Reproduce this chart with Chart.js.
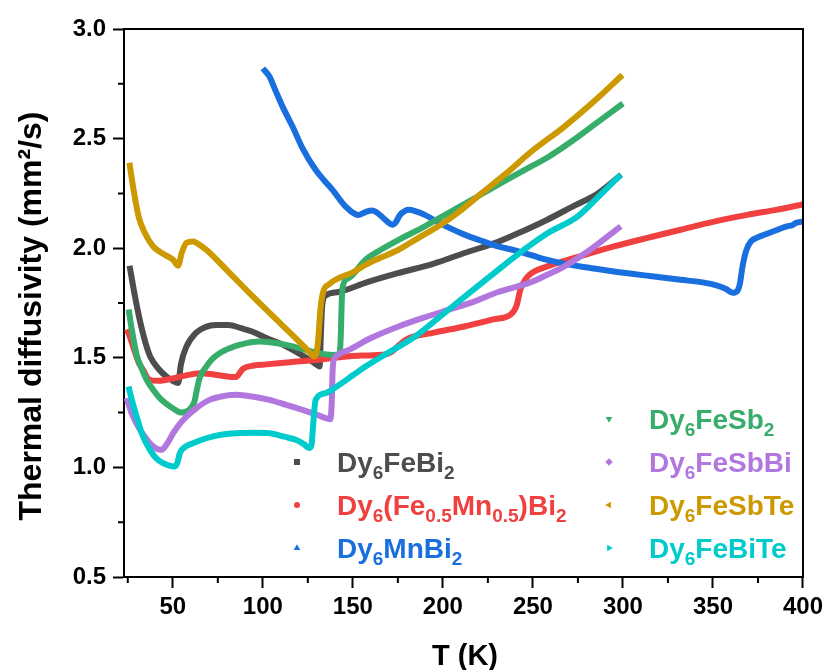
<!DOCTYPE html>
<html><head><meta charset="utf-8">
<script src="https://cdn.jsdelivr.net/npm/chart.js@4/dist/chart.umd.min.js"></script>
<style>html,body{margin:0;padding:0;background:#fff;}</style>
</head><body>
<canvas id="c" width="828" height="670"></canvas>
<script>
// ---------- data ----------
const seriesNames = ['Dy_{6}FeBi_{2}', 'Dy_{6}(Fe_{0.5}Mn_{0.5})Bi_{2}', 'Dy_{6}MnBi_{2}',
  'Dy_{6}FeSb_{2}', 'Dy_{6}FeSbBi', 'Dy_{6}FeSbTe', 'Dy_{6}FeBiTe'];
const seriesColors = ['#4d4d4d', '#f04040', '#1a6fdf', '#37ad6b', '#b177de', '#cc9900', '#00cbcc'];
const seriesMarkers = ['rect', 'circle', 'triUp', 'triDown', 'diamond', 'triLeft', 'triRight'];

const T_FeBi2 = [26, 29, 32, 35.5, 37.5, 42, 46.5, 50, 53, 54.5, 57.5, 63, 68, 74, 81, 88, 94, 102, 111, 120, 126, 130, 131.5, 132.3, 133, 135, 142, 158, 175, 195, 212, 231, 245, 258, 272, 286, 299];
const D_FeBi2 = [1.92, 1.78, 1.66, 1.55, 1.505, 1.45, 1.414, 1.395, 1.385, 1.47, 1.55, 1.615, 1.64, 1.65, 1.65, 1.635, 1.62, 1.59, 1.56, 1.52, 1.49, 1.468, 1.46, 1.62, 1.74, 1.785, 1.80, 1.845, 1.886, 1.93, 1.978, 2.03, 2.08, 2.13, 2.19, 2.25, 2.335];

const T_FeMnBi2 = [24.5, 26, 28, 31, 33.5, 37, 42, 46.5, 55, 65, 72, 80, 85, 89, 95, 102, 115, 129, 140, 155, 168, 172, 176, 180, 195, 212, 228, 238, 241, 243, 246, 250, 258, 275, 295, 315, 332, 350, 369, 385, 400];
const D_FeMnBi2 = [1.63, 1.60, 1.55, 1.48, 1.445, 1.40, 1.395, 1.40, 1.415, 1.43, 1.425, 1.415, 1.412, 1.45, 1.465, 1.47, 1.48, 1.49, 1.50, 1.51, 1.515, 1.53, 1.56, 1.585, 1.615, 1.643, 1.675, 1.70, 1.74, 1.81, 1.86, 1.89, 1.917, 1.96, 2.008, 2.05, 2.084, 2.12, 2.152, 2.175, 2.20];

const T_MnBi2 = [100, 103.6, 107, 110.9, 116.5, 122, 129.3, 134, 138.6, 146, 151.5, 153, 157, 160.5, 163, 166, 169, 172, 174, 176, 179, 181, 185, 190, 197, 203, 212, 221, 230, 240, 250, 258, 270, 282, 295, 315, 332, 345, 352, 357, 361, 363.5, 365, 366.5, 368.5, 371, 374.5, 383, 391, 394, 396, 400];
const D_MnBi2 = [2.82, 2.784, 2.72, 2.647, 2.555, 2.457, 2.358, 2.31, 2.267, 2.19, 2.155, 2.152, 2.165, 2.172, 2.165, 2.145, 2.122, 2.107, 2.12, 2.15, 2.17, 2.175, 2.168, 2.152, 2.12, 2.095, 2.062, 2.035, 2.01, 1.99, 1.966, 1.947, 1.925, 1.91, 1.894, 1.873, 1.856, 1.843, 1.83, 1.815, 1.797, 1.805, 1.84, 1.92, 1.99, 2.03, 2.048, 2.075, 2.10, 2.105, 2.115, 2.122];

const T_FeSb2 = [25.5, 27, 30, 33, 35.5, 39, 42.8, 46.5, 50, 54.8, 59, 62, 63.5, 65, 68.6, 72, 76, 82, 87, 98, 105, 113, 122, 131, 138.6, 142.5, 143.3, 143.8, 144.5, 147.8, 157, 166, 175.4, 190, 203, 217, 230.7, 245, 258.3, 272, 286, 300];
const D_FeSb2 = [1.72, 1.64, 1.51, 1.445, 1.40, 1.355, 1.316, 1.29, 1.27, 1.25, 1.262, 1.30, 1.36, 1.41, 1.46, 1.495, 1.521, 1.545, 1.559, 1.574, 1.57, 1.559, 1.54, 1.521, 1.513, 1.515, 1.60, 1.75, 1.83, 1.864, 1.947, 1.995, 2.038, 2.10, 2.16, 2.225, 2.29, 2.355, 2.415, 2.49, 2.575, 2.66];

const T_FeSbBi = [24.4, 27, 29.9, 33.5, 37.3, 41, 43.8, 47, 50.2, 54, 57.6, 63, 70.4, 78, 85.2, 95, 103.6, 113, 122, 130, 135, 137.5, 138.3, 138.8, 140, 143, 147.8, 160, 175.4, 190, 203, 217, 230.7, 249, 258.3, 267.5, 283, 298.8];
const D_FeSbBi = [1.316, 1.25, 1.20, 1.15, 1.11, 1.085, 1.08, 1.11, 1.156, 1.20, 1.232, 1.27, 1.308, 1.325, 1.331, 1.322, 1.308, 1.285, 1.262, 1.24, 1.225, 1.22, 1.30, 1.45, 1.50, 1.52, 1.536, 1.59, 1.643, 1.685, 1.719, 1.755, 1.80, 1.845, 1.88, 1.917, 2.00, 2.10];

const T_FeSbTe = [25.9, 28.2, 31, 34.5, 39.1, 45.6, 50.2, 52.9, 55, 57.6, 61.2, 64, 68.6, 80, 94.4, 110, 120, 126, 128.5, 130.5, 132, 133.5, 136.7, 142.3, 150, 157, 165, 175.4, 186, 197.5, 208, 221.4, 235, 249, 267.5, 284, 299.7];
const D_FeSbTe = [2.39, 2.267, 2.145, 2.069, 2.008, 1.97, 1.947, 1.92, 1.98, 2.025, 2.031, 2.02, 1.993, 1.90, 1.78, 1.655, 1.575, 1.525, 1.506, 1.56, 1.72, 1.80, 1.835, 1.864, 1.89, 1.924, 1.955, 1.993, 2.045, 2.10, 2.16, 2.25, 2.34, 2.44, 2.555, 2.67, 2.79];

const T_FeBiTe = [25.4, 27.5, 29.9, 33, 37.3, 41, 44.7, 48, 51.1, 52.5, 53.9, 57, 61.2, 68.6, 76, 85.2, 95, 103.6, 112, 118.3, 123, 125.7, 127, 128, 129.3, 134.9, 142.3, 150, 157, 170, 184.6, 198, 212.3, 226, 240, 258.3, 274.9, 287, 298.8];
const D_FeBiTe = [1.369, 1.30, 1.232, 1.15, 1.08, 1.04, 1.019, 1.008, 1.004, 1.02, 1.065, 1.095, 1.11, 1.133, 1.148, 1.156, 1.158, 1.156, 1.14, 1.126, 1.105, 1.088, 1.10, 1.20, 1.308, 1.339, 1.376, 1.42, 1.46, 1.525, 1.597, 1.685, 1.78, 1.87, 1.962, 2.069, 2.145, 2.24, 2.335];

const seriesT = [T_FeBi2, T_FeMnBi2, T_MnBi2, T_FeSb2, T_FeSbBi, T_FeSbTe, T_FeBiTe];
const seriesD = [D_FeBi2, D_FeMnBi2, D_MnBi2, D_FeSb2, D_FeSbBi, D_FeSbTe, D_FeBiTe];

const xMajorTicks = [50, 100, 150, 200, 250, 300, 350, 400];
const xMinorTicks = [25, 75, 125, 175, 225, 275, 325, 375];
const yMajorTicks = [0.5, 1.0, 1.5, 2.0, 2.5, 3.0];
const yMinorTicks = [0.75, 1.25, 1.75, 2.25, 2.75];
const xTitle = 'T (K)';
const yTitle = 'Thermal diffusivity (mm\u00B2/s)';

// ---------- chart ----------
const FONT = "'Liberation Sans', Arial, sans-serif";
const drawOrder = [7, 6, 5, 4, 3, 2, 1];

const datasets = seriesNames.map((n, i) => ({
  label: n,
  data: seriesT[i].map((t, j) => ({x: t, y: seriesD[i][j]})),
  borderColor: seriesColors[i],
  backgroundColor: seriesColors[i],
  borderWidth: 6,
  pointRadius: 0,
  fill: false,
  cubicInterpolationMode: 'monotone',
  borderJoinStyle: 'round',
  order: drawOrder[i]
}));

function richSegments(markup) {
  const segs = [];
  const re = /_\{([^}]*)\}/g;
  let last = 0, m;
  while ((m = re.exec(markup)) !== null) {
    if (m.index > last) segs.push({t: markup.slice(last, m.index), sub: false});
    segs.push({t: m[1], sub: true});
    last = re.lastIndex;
  }
  if (last < markup.length) segs.push({t: markup.slice(last), sub: false});
  return segs;
}

function drawMarker(ctx, type, x, y, color) {
  ctx.save();
  ctx.fillStyle = color;
  ctx.beginPath();
  const r = 3.8;
  if (type === 'rect') { ctx.rect(x - 3, y - 3, 6, 6); }
  else if (type === 'circle') { ctx.arc(x, y, 3, 0, Math.PI * 2); }
  else if (type === 'diamond') { ctx.moveTo(x, y - r); ctx.lineTo(x + r, y); ctx.lineTo(x, y + r); ctx.lineTo(x - r, y); ctx.closePath(); }
  else {
    const rot = {triUp: 0, triRight: Math.PI / 2, triDown: Math.PI, triLeft: -Math.PI / 2}[type];
    for (let k = 0; k < 3; k++) {
      const a = rot + k * 2 * Math.PI / 3 - Math.PI / 2;
      const px = x + r * Math.cos(a), py = y + r * Math.sin(a);
      if (k === 0) ctx.moveTo(px, py); else ctx.lineTo(px, py);
    }
    ctx.closePath();
  }
  ctx.fill();
  ctx.restore();
}

const decor = {
  id: 'decor',
  afterDraw(chart) {
    const ctx = chart.ctx;
    const a = chart.chartArea;
    const xs = chart.scales.x, ys = chart.scales.y;
    ctx.save();
    ctx.strokeStyle = '#000';
    ctx.lineWidth = 2;
    ctx.beginPath();
    ctx.moveTo(a.left - 1, a.top); ctx.lineTo(a.right, a.top); ctx.lineTo(a.right, a.bottom + 1);
    ctx.stroke();
    ctx.beginPath();
    xMinorTicks.forEach(v => { const px = xs.getPixelForValue(v); ctx.moveTo(px, a.bottom); ctx.lineTo(px, a.bottom + 6); });
    yMinorTicks.forEach(v => { const py = ys.getPixelForValue(v); ctx.moveTo(a.left, py); ctx.lineTo(a.left - 6, py); });
    ctx.stroke();

    ctx.fillStyle = '#000';
    ctx.font = 'bold 29px ' + FONT;
    ctx.textAlign = 'center';
    ctx.textBaseline = 'alphabetic';
    ctx.fillText(xTitle, 465, 665);

    ctx.save();
    ctx.translate(41, 316);
    ctx.rotate(-Math.PI / 2);
    ctx.font = 'bold 32px ' + FONT;
    ctx.textAlign = 'center';
    ctx.fillText(yTitle, 0, 0);
    ctx.restore();

    const slots = [
      {mx: 297, tx: 337, by: 472}, {mx: 297, tx: 337, by: 515}, {mx: 297, tx: 337, by: 558},
      {mx: 609, tx: 649, by: 429}, {mx: 609, tx: 649, by: 472}, {mx: 609, tx: 649, by: 515}, {mx: 609, tx: 649, by: 558}
    ];
    seriesNames.forEach((name, i) => {
      const s = slots[i];
      drawMarker(ctx, seriesMarkers[i], s.mx, s.by - 10, seriesColors[i]);
      let x = s.tx;
      ctx.fillStyle = seriesColors[i];
      ctx.textAlign = 'left';
      ctx.textBaseline = 'alphabetic';
      richSegments(name).forEach(seg => {
        if (seg.sub) {
          ctx.font = 'bold 19px ' + FONT;
          ctx.fillText(seg.t, x, s.by + 7);
        } else {
          ctx.font = 'bold 28px ' + FONT;
          ctx.fillText(seg.t, x, s.by);
        }
        x += ctx.measureText(seg.t).width;
      });
    });
    ctx.restore();
  }
};

new Chart(document.getElementById('c'), {
  type: 'line',
  data: {datasets},
  options: {
    responsive: false,
    devicePixelRatio: 1,
    animation: false,
    layout: {padding: {top: 29, right: 21, left: 0, bottom: 0}},
    plugins: {legend: {display: false}, tooltip: {enabled: false}},
    scales: {
      x: {
        type: 'linear', min: 22.9, max: 400,
        afterFit: s => { s.height = 93; },
        afterBuildTicks: s => { s.ticks = xMajorTicks.map(v => ({value: v})); },
        ticks: {font: {family: FONT, size: 24, weight: 'bold'}, color: '#000', padding: 5, maxRotation: 0, autoSkip: false,
          callback: v => String(v)},
        grid: {display: true, drawOnChartArea: false, drawTicks: true, tickLength: 11, tickWidth: 2, tickColor: '#000'},
        border: {display: true, color: '#000', width: 2}
      },
      y: {
        type: 'linear', min: 0.5, max: 3.0,
        afterFit: s => { s.width = 124; },
        afterBuildTicks: s => { s.ticks = yMajorTicks.map(v => ({value: v})); },
        ticks: {font: {family: FONT, size: 24, weight: 'bold'}, color: '#000', padding: 7, autoSkip: false,
          callback: v => Number(v).toFixed(1)},
        grid: {display: true, drawOnChartArea: false, drawTicks: true, tickLength: 11, tickWidth: 2, tickColor: '#000'},
        border: {display: true, color: '#000', width: 2}
      }
    }
  },
  plugins: [decor]
});
</script>
</body></html>
